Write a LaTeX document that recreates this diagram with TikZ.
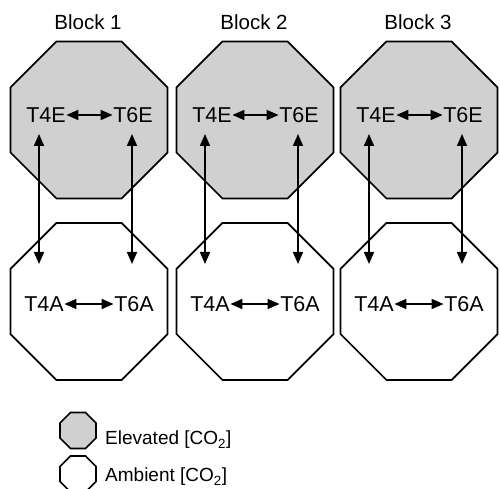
\documentclass[tikz,border=0pt]{standalone}
\usepackage{fontspec}
\setmainfont{Liberation Sans}
\usetikzlibrary{shapes.geometric,arrows.meta,calc}
\definecolor{elevgray}{RGB}{208,208,208}
\tikzset{
 oct/.style={regular polygon, regular polygon sides=8, minimum size=170pt, inner sep=0pt, draw=black, line width=1.7pt},
 elev/.style={oct, fill=elevgray},
 amb/.style={oct, fill=white},
 lbl/.style={font=\fontsize{21.5}{25}\selectfont, inner sep=0.5pt},
 blocktitle/.style={font=\fontsize{20.5}{24}\selectfont, anchor=base, inner sep=0pt},
 legtext/.style={font=\fontsize{19}{22}\selectfont, anchor=base west, inner sep=0pt},
 biarrow/.style={{Triangle[length=12pt,width=10pt]}-{Triangle[length=12pt,width=10pt]}, line width=1.7pt},
}
\begin{document}
\begin{tikzpicture}[x=1pt,y=1pt]
\useasboundingbox (0,0) rectangle (500,489);
\clip (0,0) rectangle (500,489);
\foreach \i/\cx in {1/89,2/255,3/419} {
  \node[elev] (E\i) at (\cx,369) {};
  \node[amb] (A\i) at (\cx,187.5) {};
  \node[blocktitle] (B\i) at (\cx-1,459) {Block \i};
  \node[lbl] (T4E\i) at (\cx-43,374) {T4E};
  \node[lbl] (T6E\i) at (\cx+44,374) {T6E};
  \node[lbl] (T4A\i) at (\cx-45,185) {T4A};
  \node[lbl] (T6A\i) at (\cx+45,185) {T6A};
  \draw[biarrow] (T4E\i) -- (T6E\i);
  \draw[biarrow] (T4A\i) -- (T6A\i);
  \coordinate (LU\i) at (\cx-50,355);
  \coordinate (LD\i) at (\cx-50,225);
  \coordinate (RU\i) at (\cx+43,355);
  \coordinate (RD\i) at (\cx+43,225);
  \draw[biarrow] (LU\i) -- (LD\i);
  \draw[biarrow] (RU\i) -- (RD\i);
}
\node[elev, minimum size=39pt] (LE) at (78,58.5) {};
\node[amb, minimum size=39pt] (LA) at (78,15) {};
\node[legtext] (LEt) at (105,44) {Elevated [CO\textsubscript{2}]};
\node[legtext] (LAt) at (105,7.3) {Ambient [CO\textsubscript{2}]};
\end{tikzpicture}
\end{document}
